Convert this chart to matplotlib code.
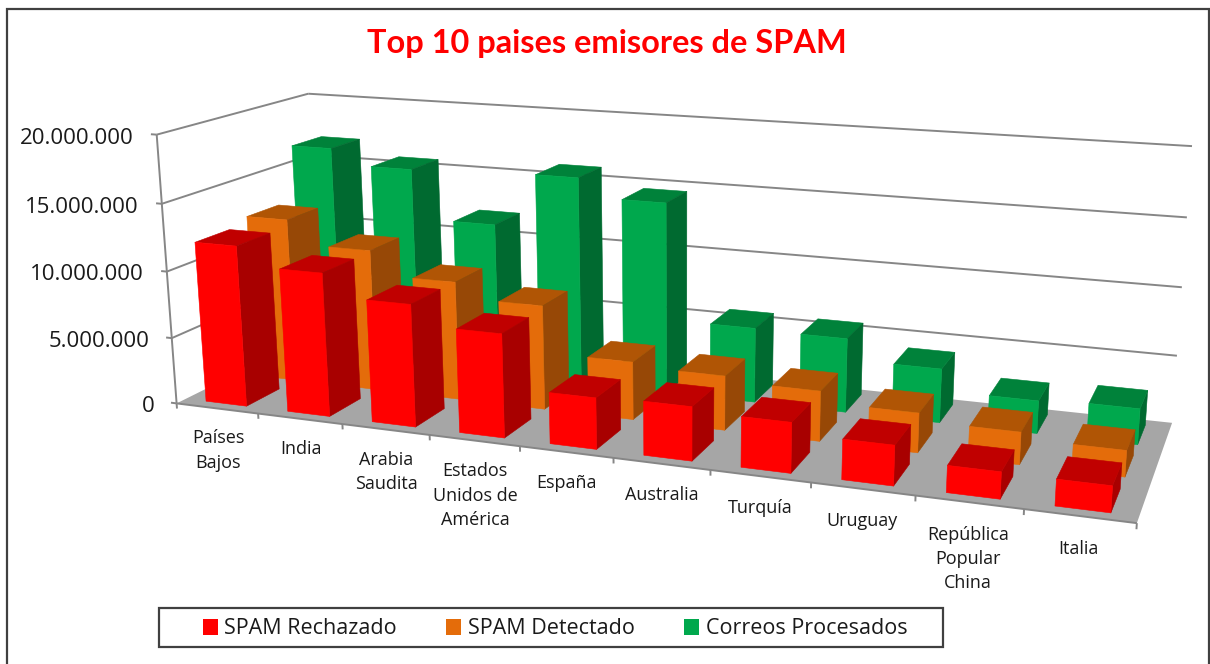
import numpy as np
import matplotlib
matplotlib.use("Agg")
import matplotlib.pyplot as plt
from matplotlib.patches import Rectangle
from mpl_toolkits.mplot3d.art3d import Poly3DCollection, Line3DCollection

W, H = 1210, 664

categories = ["Países\nBajos", "India", "Arabia\nSaudita", "Estados\nUnidos de\nAmérica", "España",
              "Australia", "Turquía", "Uruguay", "República\nPopular\nChina", "Italia"]
series_names = ["SPAM Rechazado", "SPAM Detectado", "Correos Procesados"]
rechazado = [12.05e6, 10.65e6, 9.0e6, 7.55e6, 3.7e6, 3.85e6, 3.55e6, 2.8e6, 1.85e6, 1.8e6]
detectado = [12.55e6, 10.75e6, 8.95e6, 7.8e6, 4.3e6, 4.0e6, 3.65e6, 2.85e6, 2.3e6, 1.85e6]
procesados = [16.8e6, 15.6e6, 11.8e6, 15.9e6, 14.5e6, 5.65e6, 5.55e6, 4.0e6, 2.4e6, 2.6e6]
value_ticks = [0, 5e6, 10e6, 15e6, 20e6]
tick_labels = ["0", "5.000.000", "10.000.000", "15.000.000", "20.000.000"]

front_colors = ["#FF0000", "#E46C0A", "#00A84D"]
top_colors = ["#C00000", "#B05505", "#00823A"]
side_colors = ["#A80000", "#974806", "#006A30"]

# view calibration: unit-box corner -> reference pixel
calib = [
    ((0, 0, 0), (177, 404)), ((0, 0, .25), (172, 337)), ((0, 0, .5), (168, 271)),
    ((0, 0, .75), (162, 203)), ((0, 0, 1), (156, 135)),
    ((0, 1, 1), (308, 94)),
    ((1, 1, 1), (1192, 147)), ((1, 1, .75), (1187, 217)), ((1, 1, .5), (1182, 287)),
    ((1, 1, .25), (1177, 356)), ((1, 1, 0), (1172, 422)),
    ((.1, 0, 0), (257, 414)), ((.2, 0, 0), (342, 424.5)), ((.4, 0, 0), (521, 447)),
    ((.5, 0, 0), (614, 458)), ((.6, 0, 0), (709, 470)), ((.9, 0, 0), (1024, 509)),
    ((1, 0, 0), (1137, 523)),
]
rows = []
for (X, Y, Z), (u, v) in calib:
    u, v = u / 1000, v / 1000
    rows.append([X, Y, Z, 1, 0, 0, 0, 0, -u * X, -u * Y, -u * Z, -u])
    rows.append([0, 0, 0, 0, X, Y, Z, 1, -v * X, -v * Y, -v * Z, -v])
cam = np.linalg.svd(np.array(rows))[2][-1].reshape(3, 4)
cam = np.diag([1000, 1000, 1.0]) @ cam
if cam[2, 3] < 0:
    cam = -cam

fig = plt.figure(figsize=(W / 100, H / 100), dpi=100, facecolor="white")
ax = fig.add_axes([0, 0, 1, 1], projection="3d", computed_zorder=False)
ax.set_axis_off()
ax.patch.set_alpha(0)
ax.apply_aspect = lambda position=None: None

NX, NY, NZ = 10.0, 3.0, 20e6


def pinned_proj():
    to_display = np.array([[1, 0, 0], [0, -1, H], [0, 0, 1.0]])
    disp_to_2d = ax.transData.inverted().get_matrix()
    P = disp_to_2d @ to_display @ cam
    M = np.vstack([P[0], P[1], [0, 1, 0, 0.01], P[2]])
    return M @ np.diag([1 / NX, 1 / NY, 1 / NZ, 1])


ax.get_proj = pinned_proj


def to_fig(x, y, z, dx=0, dy=0):
    p = cam @ np.array([x / NX, y / NY, z / NZ, 1.0])
    return (p[0] / p[2] + dx) / W, 1 - (p[1] / p[2] + dy) / H


grid = "#868686"
ax.add_collection3d(Poly3DCollection([[(0, 0, 0), (NX, 0, 0), (NX, NY, 0), (0, NY, 0)]],
                                     facecolors="#A6A6A6", edgecolors="none", zorder=1))
wall_lines = []
for v in value_ticks[1:]:
    wall_lines += [[(0, 0, v), (0, NY, v)], [(0, NY, v), (NX, NY, v)]]
ax.add_collection3d(Line3DCollection(wall_lines, colors=grid, linewidths=1.4, zorder=0.5))
axis_lines = [[(0, 0, 0), (0, 0, NZ)], [(0, 0, 0), (NX, 0, 0)]]
axis_lines += [[(-0.07, 0, v), (0, 0, v)] for v in value_ticks]
axis_lines += [[(i, 0, 0), (i, 0, -0.02 * NZ)] for i in range(len(categories) + 1)]
ax.add_collection3d(Line3DCollection(axis_lines, colors=grid, linewidths=1.4, zorder=1.5))

# bars: back row first, left to right
bar_w, bar_d = 0.5, 0.65
none = (0, 0, 0, 0)
z = 2
for j in [2, 1, 0]:
    vals = [rechazado, detectado, procesados][j]
    face = [none, top_colors[j], front_colors[j], none, none, side_colors[j]]
    for i, v in enumerate(vals):
        ax.bar3d(i + 0.5 - bar_w / 2, j + 0.5 - bar_d / 2, 0, bar_w, bar_d, v,
                 color=face, shade=False, edgecolor=face, linewidth=0.4, zorder=z)
        z += 1

ax.set_xlim(0, NX); ax.set_ylim(0, NY); ax.set_zlim(0, NZ)

txt = "#1A1A1A"
for v, lab in zip(value_ticks, tick_labels):
    fx, fy = to_fig(-0.28, 0, v, dy=5.5)
    fig.text(fx, fy, lab, ha="right", va="center", fontsize=16, color=txt, family="Open Sans")
for i, lab in enumerate(categories):
    fx, fy = to_fig(i + 0.5, 0, -0.08 * NZ)
    fig.text(fx, fy, lab, ha="center", va="top", fontsize=13, color=txt,
             family="Open Sans", linespacing=1.45)

fig.text(607 / W, 1 - 43 / H, "Top 10 paises emisores de SPAM", color="#FF0000", fontsize=23.4,
         fontweight="bold", family="Lato", ha="center", va="center")

# outer frame and legend box
fig.add_artist(Rectangle((6.5 / W, -0.02), (1208.5 - 6.5) / W, 1.02 - 8.5 / H, transform=fig.transFigure,
                         fill=False, ec="#404040", lw=1.6))
fig.add_artist(Rectangle((158.5 / W, 1 - 647 / H), (942.5 - 158.5) / W, 39 / H, transform=fig.transFigure,
                         fill=False, ec="#404040", lw=1.6))
handles = [Rectangle((0, 0), 1, 1, fc=c, ec="none") for c in front_colors]
fig.legend(handles, series_names, loc="center", bbox_to_anchor=(555 / W, 1 - 629 / H), ncol=3, frameon=False,
           prop={"family": "Open Sans", "size": 15.5}, handlelength=0.7, handleheight=0.7,
           handletextpad=0.3, columnspacing=2.3, labelcolor=txt)

fig.savefig("out.png", dpi=100)
